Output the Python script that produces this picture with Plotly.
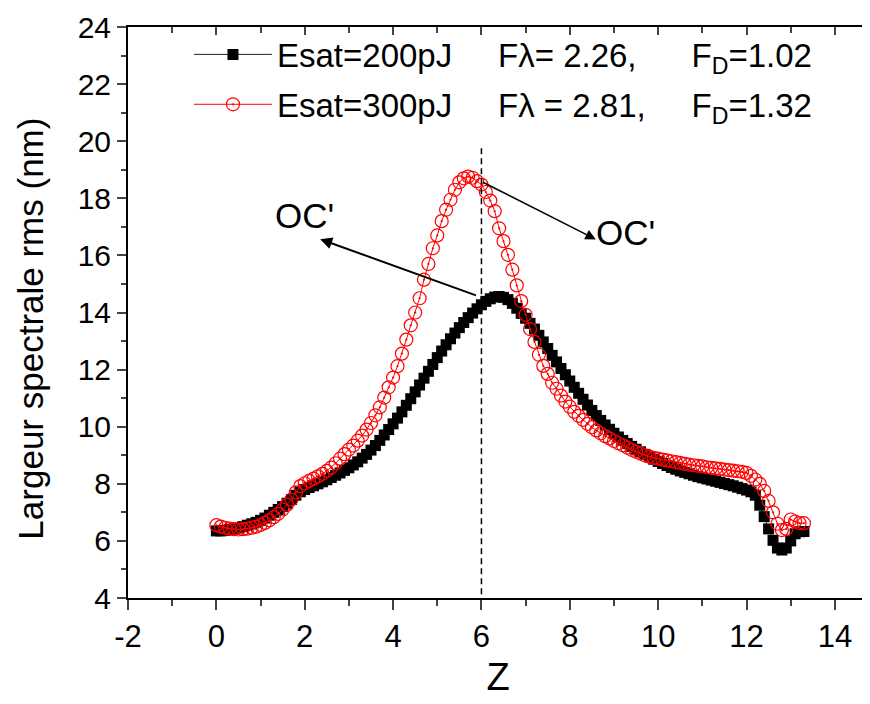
import plotly.graph_objects as go

Z = [0.0, 0.1, 0.2, 0.3, 0.4, 0.5, 0.6, 0.7, 0.8, 0.9,
     1.0, 1.1, 1.2, 1.3, 1.4, 1.5, 1.6, 1.7, 1.8, 1.9,
     2.0, 2.1, 2.2, 2.3, 2.4, 2.5, 2.6, 2.7, 2.8, 2.9,
     3.0, 3.1, 3.2, 3.3, 3.4, 3.5, 3.6, 3.7, 3.8, 3.9,
     4.0, 4.1, 4.2, 4.3, 4.4, 4.5, 4.6, 4.7, 4.8, 4.9,
     5.0, 5.1, 5.2, 5.3, 5.4, 5.5, 5.6, 5.7, 5.8, 5.9,
     6.0, 6.1, 6.2, 6.3, 6.4, 6.5, 6.6, 6.7, 6.8, 6.9,
     7.0, 7.1, 7.2, 7.3, 7.4, 7.5, 7.6, 7.7, 7.8, 7.9,
     8.0, 8.1, 8.2, 8.3, 8.4, 8.5, 8.6, 8.7, 8.8, 8.9,
     9.0, 9.1, 9.2, 9.3, 9.4, 9.5, 9.6, 9.7, 9.8, 9.9,
     10.0, 10.1, 10.2, 10.3, 10.4, 10.5, 10.6, 10.7, 10.8, 10.9,
     11.0, 11.1, 11.2, 11.3, 11.4, 11.5, 11.6, 11.7, 11.8, 11.9,
     12.0, 12.1, 12.2, 12.3, 12.4, 12.5, 12.6, 12.7, 12.8, 12.9,
     13.0, 13.1, 13.2, 13.3]

W_200 = [6.35, 6.35, 6.37, 6.40, 6.42, 6.45, 6.50, 6.55, 6.60, 6.65,
         6.72, 6.80, 6.90, 7.00, 7.10, 7.20, 7.32, 7.45, 7.60, 7.72,
         7.80, 7.87, 7.93, 8.00, 8.07, 8.14, 8.22, 8.30, 8.38, 8.47,
         8.56, 8.66, 8.77, 8.90, 9.03, 9.18, 9.34, 9.52, 9.71, 9.90,
         10.10, 10.30, 10.52, 10.75, 10.98, 11.22, 11.46, 11.70, 11.94, 12.18,
         12.42, 12.65, 12.87, 13.08, 13.28, 13.47, 13.65, 13.82, 13.98, 14.13,
         14.27, 14.39, 14.48, 14.54, 14.56, 14.53, 14.45, 14.32, 14.15, 13.97,
         13.80, 13.62, 13.42, 13.20, 12.97, 12.74, 12.50, 12.27, 12.04, 11.82,
         11.60, 11.38, 11.17, 10.96, 10.76, 10.57, 10.39, 10.22, 10.06, 9.91,
         9.77, 9.64, 9.52, 9.41, 9.31, 9.21, 9.12, 9.03, 8.94, 8.86,
         8.78, 8.71, 8.64, 8.57, 8.51, 8.45, 8.40, 8.35, 8.30, 8.25,
         8.21, 8.17, 8.13, 8.09, 8.05, 8.01, 7.97, 7.93, 7.88, 7.83,
         7.78, 7.72, 7.60, 7.25, 6.85, 6.42, 6.02, 5.75, 5.68, 5.75,
         6.00, 6.25, 6.32, 6.33]

W_300 = [6.55, 6.50, 6.46, 6.43, 6.41, 6.40, 6.41, 6.43, 6.46, 6.50,
         6.56, 6.63, 6.72, 6.83, 6.95, 7.10, 7.27, 7.45, 7.70, 7.92,
         8.02, 8.10, 8.18, 8.26, 8.35, 8.45, 8.57, 8.72, 8.88, 9.04,
         9.20, 9.34, 9.51, 9.69, 9.90, 10.13, 10.40, 10.68, 11.02, 11.38,
         11.72, 12.12, 12.56, 13.05, 13.55, 14.00, 14.50, 15.15, 15.70, 16.25,
         16.70, 17.20, 17.60, 17.95, 18.30, 18.56, 18.70, 18.76, 18.72, 18.60,
         18.48, 18.22, 17.92, 17.55, 16.95, 16.50, 16.02, 15.50, 14.95, 14.40,
         13.92, 13.42, 12.97, 12.52, 12.13, 11.85, 11.54, 11.33, 11.09, 10.88,
         10.70, 10.52, 10.38, 10.24, 10.10, 9.98, 9.87, 9.77, 9.67, 9.59,
         9.50, 9.42, 9.35, 9.27, 9.19, 9.12, 9.06, 9.00, 8.95, 8.91,
         8.88, 8.85, 8.82, 8.79, 8.76, 8.73, 8.70, 8.67, 8.65, 8.63,
         8.61, 8.58, 8.56, 8.54, 8.52, 8.50, 8.48, 8.46, 8.44, 8.42,
         8.38, 8.28, 8.15, 8.00, 7.75, 7.40, 7.00, 6.60, 6.38, 6.42,
         6.75, 6.68, 6.62, 6.62]

X_TICKS = [-2, 0, 2, 4, 6, 8, 10, 12, 14]
X_TICK_TEXT = ["-2", "0", "2", "4", "6", "8", "10", "12", "14"]
Y_TICKS = [4, 6, 8, 10, 12, 14, 16, 18, 20, 22, 24]

# annotation anchors (data units)
DASH_Z = 6.0
DASH_Y = [19.75, 4.0]
ARROW1_FROM = (5.91, 14.58)
ARROW1_TO = (2.35, 16.57)
LABEL1 = (2.0, 17.39)
ARROW2_FROM = (6.0, 18.59)
ARROW2_TO = (8.59, 16.56)
LABEL2 = (9.26, 16.81)

NB = "\u00a0"
name1 = "Esat=200pJ" + NB * 5 + "F\u03bb= 2.26," + NB * 6 + "F<sub>D</sub>=1.02"
name2 = "Esat=300pJ" + NB * 5 + "F\u03bb = 2.81," + NB * 5 + "F<sub>D</sub>=1.32"

FONT = "Arial, Liberation Sans, sans-serif"

fig = go.Figure()
fig.add_trace(go.Scatter(
    x=Z, y=W_200, mode="lines+markers", name=name1, legendgroup="a",
    line=dict(color="#222222", width=1),
    marker=dict(symbol="square", size=11, color="black", line=dict(width=0)),
))
fig.add_trace(go.Scatter(
    x=Z, y=W_300, mode="lines+markers", name=name2, legendgroup="b",
    line=dict(color="red", width=1),
    marker=dict(symbol="circle-open-dot", size=13, color="red", line=dict(width=1.2, color="red")),
))

fig.add_shape(type="line", xref="x", yref="y", x0=DASH_Z, x1=DASH_Z,
              y0=DASH_Y[0], y1=DASH_Y[1], line=dict(color="black", width=1.5, dash="6px,4px"))

fig.add_annotation(x=ARROW1_TO[0], y=ARROW1_TO[1], ax=ARROW1_FROM[0], ay=ARROW1_FROM[1],
                   xref="x", yref="y", axref="x", ayref="y", text="", showarrow=True,
                   arrowhead=2, arrowsize=1.2, arrowwidth=2, arrowcolor="black")
fig.add_annotation(x=ARROW2_TO[0], y=ARROW2_TO[1], ax=ARROW2_FROM[0], ay=ARROW2_FROM[1],
                   xref="x", yref="y", axref="x", ayref="y", text="", showarrow=True,
                   arrowhead=2, arrowsize=1.4, arrowwidth=1.5, arrowcolor="black")
fig.add_annotation(x=LABEL1[0], y=LABEL1[1], xref="x", yref="y", text="OC'", showarrow=False,
                   font=dict(family=FONT, size=35, color="black"))
fig.add_annotation(x=LABEL2[0], y=LABEL2[1], xref="x", yref="y", text="OC'", showarrow=False,
                   font=dict(family=FONT, size=35, color="black"))

# y-axis title placed as rotated text
fig.add_annotation(x=-0.133, y=0.471, xref="paper", yref="paper", text="Largeur spectrale rms (nm)",
                   textangle=-90, showarrow=False, xanchor="center", yanchor="middle",
                   font=dict(family=FONT, size=35, color="black"))

# invisible trace on top axis for mirrored inward ticks
fig.add_trace(go.Scatter(x=[None], y=[None], xaxis="x2", showlegend=False, hoverinfo="skip"))

fig.update_layout(
    width=862, height=696,
    margin=dict(l=120, r=2, t=17, b=106),
    paper_bgcolor="white", plot_bgcolor="white",
    font=dict(family=FONT, color="black"),
    showlegend=True,
    legend=dict(x=0.0824, y=1.001, xanchor="left", yanchor="top",
                bgcolor="rgba(0,0,0,0)", font=dict(family=FONT, size=33, color="black"),
                itemwidth=78, tracegroupgap=4),
    xaxis=dict(range=[-2, 14.75], tickvals=X_TICKS, ticktext=X_TICK_TEXT, ticks="outside",
               ticklen=10, tickwidth=2,
               showline=True, linewidth=2, linecolor="black", showgrid=False, zeroline=False,
               tickfont=dict(family=FONT, size=31),
               minor=dict(dtick=1, ticks="outside", ticklen=6, tickwidth=2, showgrid=False),
               title=dict(text="Z", font=dict(family=FONT, size=38), standoff=10)),
    xaxis2=dict(range=[-2, 14.75], overlaying="x", side="top", tickvals=X_TICKS, showticklabels=False,
                ticks="inside", ticklen=8, tickwidth=2, showline=True, linewidth=2, linecolor="black",
                showgrid=False, zeroline=False,
                minor=dict(dtick=1, ticks="inside", ticklen=6, tickwidth=2, showgrid=False)),
    yaxis=dict(range=[4, 24], tickvals=Y_TICKS, ticks="outside", ticklen=9, tickwidth=2,
               showline=True, linewidth=2, linecolor="black", showgrid=False, zeroline=False,
               tickfont=dict(family=FONT, size=30),
               minor=dict(dtick=1, ticks="outside", ticklen=5, tickwidth=2, showgrid=False)),
)

fig.write_html("out.html")
